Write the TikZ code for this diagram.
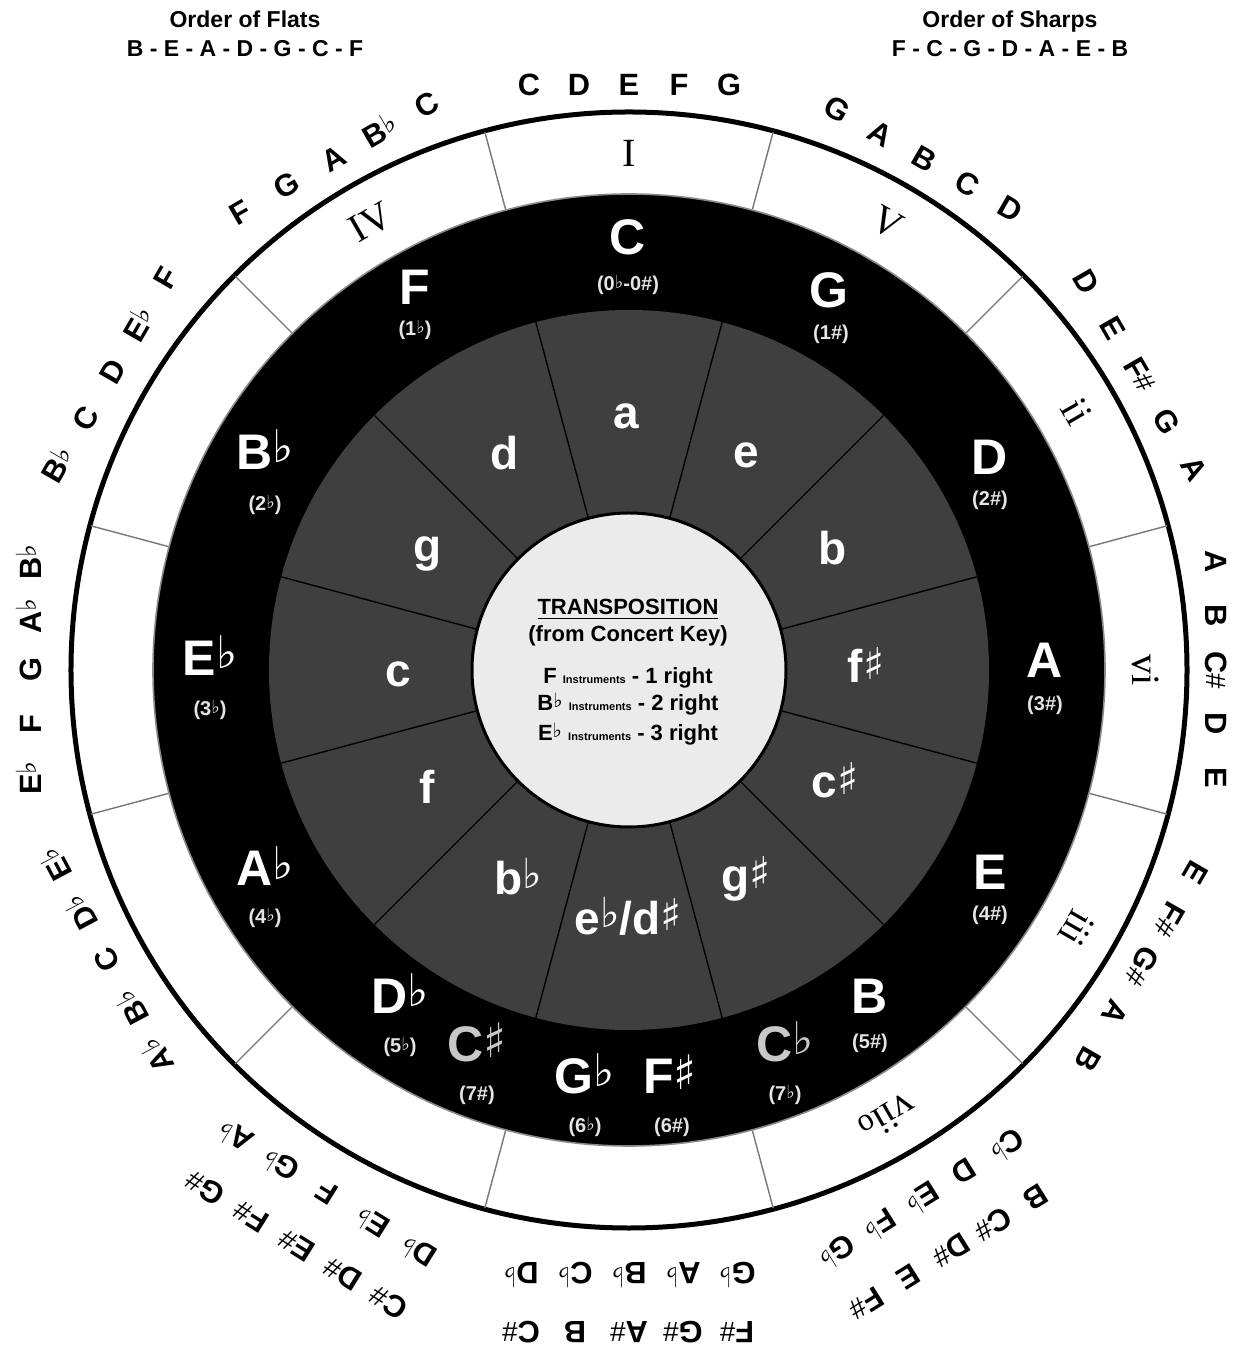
\documentclass[tikz,border=0pt]{standalone}
\usepackage{fontspec}
\setmainfont{Liberation Sans}
\newfontfamily\serifrm{Liberation Serif}
\newfontfamily\symf{DejaVu Sans}
\usepackage{graphicx}
\definecolor{ringgray}{HTML}{3F3F3F}
\definecolor{centerfill}{HTML}{EBEBEB}
\definecolor{dimkey}{HTML}{C8C8C8}
\definecolor{sublab}{HTML}{E4E4E4}
\definecolor{divgray}{HTML}{777777}
\definecolor{edgegray}{HTML}{8A8A8A}
\newcommand\fl{\raisebox{0.14em}{\scalebox{0.9}{\symf\mdseries ♭}}}
\newcommand\shp{\raisebox{0.08em}{\scalebox{0.95}{\symf\mdseries ♯}}}
\newcommand\hs{\raisebox{0.05em}{\scalebox{0.9}{\mdseries\#}}}
\newcommand\nt[1]{\makebox[25pt]{#1}}
\newcommand\nw[1]{\makebox[27pt]{#1}}
\tikzset{
 bigkey/.style={text=white, font=\fontsize{25}{30}\selectfont\bfseries, inner sep=0pt, anchor=base},
 dimbig/.style={bigkey, text=dimkey},
 subkey/.style={text=sublab, font=\fontsize{10}{12}\selectfont\bfseries, inner sep=0pt},
 minkey/.style={text=white, font=\fontsize{23}{28}\selectfont\bfseries, inner sep=0pt, anchor=base},
 roman/.style={font=\serifrm\fontsize{20}{24}\selectfont, inner sep=0pt},
 scl/.style={font=\fontsize{15.4}{18}\selectfont\bfseries, inner sep=0pt},
 head/.style={font=\fontsize{11.5}{14}\selectfont\bfseries, inner sep=0pt, anchor=base},
 ctr/.style={font=\fontsize{11}{13}\selectfont\bfseries, inner sep=0pt, anchor=base},
 centerdisc/.style={circle, draw=black, line width=1.5pt, fill=centerfill, minimum size=157pt, inner sep=0pt},
}
\begin{document}
\begin{tikzpicture}[x=0.5pt,y=0.5pt]
\useasboundingbox (-629,670) rectangle (609,-683);
% rings
\draw[line width=2.5pt, fill=white] (0,0) circle[radius=558];
\fill[black] (0,0) circle[radius=476];
\draw[edgegray, line width=0.8pt] (0,0) circle[radius=476];
\fill[ringgray] (0,0) circle[radius=360];
\foreach \a in {15,45,...,345} {
  \draw[divgray, line width=0.7pt] (\a:477) -- (\a:557);
  \draw[black, line width=0.7pt] (\a:157) -- (\a:360);
}
\node[centerdisc] (ctr) at (0,0) {};

% headings
\node[head] (hflat) at (-384,642) {Order of Flats};
\node[head] (hflatl) at (-384,613) {B - E - A - D - G - C - F};
\node[head] (hsharp) at (381,642) {Order of Sharps};
\node[head] (hsharpl) at (381,613) {F - C - G - D - A - E - B};

% center text
\node[ctr] (t1) at (-1,55) {\underline{TRANSPOSITION}};
\node[ctr] (t2) at (-1,28) {(from Concert Key)};
\node[ctr] (t3) at (-1,-14) {F {\fontsize{5.5}{6}\selectfont Instruments} - 1 right};
\node[ctr] (t4) at (-1,-41) {B\fl{} {\fontsize{5.5}{6}\selectfont Instruments} - 2 right};
\node[ctr] (t5) at (-1,-71) {E\fl{} {\fontsize{5.5}{6}\selectfont Instruments} - 3 right};

% major keys
\node[bigkey] (kC) at (-1,415) {C};
\node[bigkey] (kG) at (200,362) {G};
\node[bigkey] (kD) at (361,195) {D};
\node[bigkey] (kA) at (416,-8) {A};
\node[bigkey] (kE) at (361,-220) {E};
\node[bigkey] (kB) at (241,-343) {B};
\node[dimbig] (kCb) at (156,-391) {C\fl};
\node[bigkey] (kFs) at (41,-423) {F\shp};
\node[bigkey] (kGb) at (-44,-423) {G\fl};
\node[dimbig] (kCs) at (-152,-391) {C\shp};
\node[bigkey] (kDb) at (-229,-343) {D\fl};
\node[bigkey] (kAb) at (-364,-216) {A\fl};
\node[bigkey] (kEb) at (-419,-6) {E\fl};
\node[bigkey] (kBb) at (-364,200) {B\fl};
\node[bigkey] (kF) at (-214,365) {F};

% key signatures
\node[subkey] (sC) at (-1,385) {(0\fl-0\#)};
\node[subkey] (sG) at (202,336) {(1\#)};
\node[subkey] (sD) at (361,170) {(2\#)};
\node[subkey] (sA) at (416,-35) {(3\#)};
\node[subkey] (sE) at (361,-245) {(4\#)};
\node[subkey] (sB) at (241,-373) {(5\#)};
\node[subkey] (sCb) at (156,-425) {(7\fl)};
\node[subkey] (sFs) at (43,-457) {(6\#)};
\node[subkey] (sGb) at (-44,-457) {(6\fl)};
\node[subkey] (sCs) at (-152,-425) {(7\#)};
\node[subkey] (sDb) at (-229,-377) {(5\fl)};
\node[subkey] (sAb) at (-364,-248) {(4\fl)};
\node[subkey] (sEb) at (-419,-40) {(3\fl)};
\node[subkey] (sBb) at (-364,165) {(2\fl)};
\node[subkey] (sF) at (-214,340) {(1\fl)};

% minor keys
\node[minkey] (ma) at (-3,241) {a};
\node[minkey] (me) at (117,202) {e};
\node[minkey] (mb) at (204,105) {b};
\node[minkey] (mfs) at (237,-13) {f\shp};
\node[minkey] (mcs) at (206,-128) {c\shp};
\node[minkey] (mgs) at (117,-222) {g\shp};
\node[minkey] (meb) at (-1,-264) {e\fl/d\shp};
\node[minkey] (mbb) at (-111,-225) {b\fl};
\node[minkey] (mf) at (-202,-134) {f};
\node[minkey] (mc) at (-231,-17) {c};
\node[minkey] (mg) at (-201,108) {g};
\node[minkey] (md) at (-124,200) {d};

% roman numerals
\node[roman, rotate=0] (rI) at (90:517) {I};
\node[roman, rotate=-30] (rV) at (60:517) {V};
\node[roman, rotate=-60] (rii) at (30:517) {ii};
\node[roman, rotate=-90] (rvi) at (0:517) {vi};
\node[roman, rotate=-120] (riii) at (-30:517) {iii};
\node[roman, rotate=-150] (rvii) at (-60:517) {vii{\fontsize{16}{18}\selectfont o}};
\node[roman, rotate=30] (rIV) at (120:517) {IV};

% scale pentachords
\node[scl, rotate=0] (pC) at (90:585) {\nt{C}\nt{D}\nt{E}\nt{F}\nt{G}};
\node[scl, rotate=-30] (pG) at (60:590) {\nt{G}\nt{A}\nt{B}\nt{C}\nt{D}};
\node[scl, rotate=-60] (pD) at (30:590) {\nw{D}\nw{E}\nw{F\hs}\nw{G}\nw{A}};
\node[scl, rotate=-90] (pA) at (0:587) {\nw{A}\nw{B}\nw{C\hs}\nw{D}\nw{E}};
\node[scl, rotate=-120] (pE) at (-30:592) {\nw{E}\nw{F\hs}\nw{G\hs}\nw{A}\nw{B}};
\node[scl, rotate=-148] (pCb) at (-61:605) {\nt{C\fl}\nt{D}\nt{E\fl}\nt{F\fl}\nt{G\fl}};
\node[scl, rotate=-148] (pB) at (-61:664) {\nt{B}\nt{C\hs}\nt{D\hs}\nt{E}\nt{F\hs}};
\node[scl, rotate=180] (pGb) at (-90:605) {\nw{G\fl}\nw{A\fl}\nw{B\fl}\nw{C\fl}\nw{D\fl}};
\node[scl, rotate=180] (pFs) at (-90:662) {\nw{F\hs}\nw{G\hs}\nw{A\hs}\nw{B}\nw{C\hs}};
\node[scl, rotate=148] (pDb) at (-120:605) {\nw{D\fl}\nw{E\fl}\nw{F}\nw{G\fl}\nw{A\fl}};
\node[scl, rotate=148] (pCs) at (-120:664) {\nw{C\hs}\nw{D\hs}\nw{E\hs}\nw{F\hs}\nw{G\hs}};
\node[scl, rotate=118] (pAb) at (-151:598) {\nw{A\fl}\nw{B\fl}\nw{C}\nw{D\fl}\nw{E\fl}};
\node[scl, rotate=90] (pEb) at (180:600) {\nw{E\fl}\nw{F}\nw{G}\nw{A\fl}\nw{B\fl}};
\node[scl, rotate=60] (pBb) at (150:598) {\nw{B\fl}\nw{C}\nw{D}\nw{E\fl}\nw{F}};
\node[scl, rotate=30] (pF) at (120:592) {\nw{F}\nw{G}\nw{A}\nw{B\fl}\nw{C}};
\end{tikzpicture}
\end{document}
